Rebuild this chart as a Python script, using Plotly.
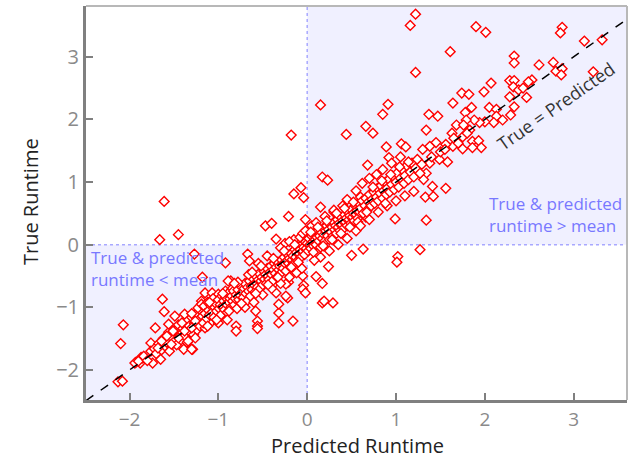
import plotly.graph_objects as go

# ---- data ----
outlier_x = [1.90, 2.01, 1.61, 2.87, 2.85, 3.12, 3.32, 2.33, 2.33, 2.61, 2.77, 2.80, 2.87, 2.86, 3.22,
             2.53, 2.49, 2.28, 2.33, 2.07, 1.74, 1.82, 1.99, 2.32, 2.38, 2.43, 2.28, 2.47, 1.64, 1.85,
             2.05, 2.13, 2.33, 1.78, 1.37, 1.47, 2.13, 2.29, 2.20, 2.10, 2.00, 1.94, 1.88, 1.79, 1.68,
             1.76, 1.83, 1.34, 1.63, 1.75, 1.86, 1.93, 1.96, 1.86, 1.75, 1.64, 1.56, 1.45, 1.38, 1.30,
             1.58, 1.49, 1.38, 1.34, 1.31, 1.41, 1.56, 1.33, 1.42,
             1.22, 1.16, 1.22, 0.15, 0.91, 0.85, 0.66, 0.74, 0.44, 0.89, 1.06, 1.11, 0.92, 0.68, 1.34,
             0.99, 0.17, 0.23, 0.15,
             -0.18, -0.07, -0.15, -0.04, 0.50, 0.63, 1.27, 1.02, 1.01, 0.24, 0.10, -0.05, 0.17, -0.04,
             0.17, 0.29,
             -1.61, -0.21, -0.47, -0.40, -0.02,
             -1.66, -1.45, -1.27, -0.92, -1.18, -1.63, -1.61, -2.07, -2.10, -1.71, -1.76, -1.65, -1.74,
             -1.93, -1.86, -2.13, -2.08, -1.88, -1.52, -1.29, -0.80, -0.80, -0.58, -0.56, -0.56, -0.32,
             -0.16, -0.32, -1.87, -1.85, -1.94,
             -0.35, -0.67, -0.65, -0.21, -0.05, -0.22, -0.32, -0.56, -0.86, 0.19, 0.30, -0.02, -0.24,
             -0.24, -0.35, -0.36]
outlier_y = [3.48, 3.39, 3.08, 3.47, 3.38, 3.25, 3.27, 3.01, 2.90, 2.87, 2.91, 2.77, 2.81, 2.71, 2.76,
             2.63, 2.60, 2.62, 2.62, 2.58, 2.42, 2.40, 2.44, 2.52, 2.47, 2.50, 2.36, 2.35, 2.26, 2.19,
             2.19, 2.16, 2.20, 2.11, 2.08, 2.05, 2.05, 2.07, 1.99, 1.95, 1.96, 1.95, 1.99, 1.99, 1.91,
             1.91, 1.83, 1.83, 1.78, 1.72, 1.65, 1.66, 1.55, 1.55, 1.53, 1.57, 1.60, 1.63, 1.57, 1.52,
             1.32, 1.36, 1.30, 1.14, 1.04, 0.93, 0.90, 0.76, 0.77,
             3.68, 3.50, 2.75, 2.23, 2.24, 2.08, 1.89, 1.78, 1.76, 1.56, 1.61, 1.56, 1.39, 1.27, 0.39,
             0.41, 1.08, 1.03, 0.60,
             1.75, 0.91, 0.81, 0.75, -0.17, -0.07, -0.08, -0.19, -0.28, -0.35, -0.51, -0.50, -0.62, -0.65,
             -0.93, -0.93,
             0.69, 0.45, 0.30, 0.34, 0.40,
             0.08, 0.16, -0.15, -0.29, -0.52, -0.87, -1.07, -1.28, -1.58, -1.33, -1.57, -1.83, -1.89,
             -1.88, -1.82, -2.19, -2.18, -1.89, -1.59, -1.67, -1.30, -1.38, -1.06, -1.22, -1.30, -1.25,
             -1.22, -1.09, -1.80, -1.81, -1.89,
             0.09, -0.15, -0.26, -0.60, -0.71, -0.85, -0.95, -1.34, -0.58, -0.90, 0.52, -0.77, -0.82,
             -0.63, -0.77, -0.60]

band_x = [-1.90, -1.84, -1.80, -1.76, -1.72, -1.70, -1.67, -1.64, -1.62, -1.60, -1.58, -1.56, -1.55,
          -1.53, -1.50, -1.48, -1.47, -1.45, -1.43, -1.42, -1.40, -1.38, -1.36, -1.35, -1.33, -1.32,
          -1.30, -1.28, -1.27, -1.25, -1.24, -1.22, -1.21, -1.20, -1.18,
          -1.49, -1.38, -1.41, -1.56, -1.51, -1.58, -1.64, -1.68, -1.53, -1.45, -1.38, -1.30, -1.26,
          -1.34, -1.39, -1.30, -1.23, -1.19, -1.15, -1.07, -1.00, -0.92, -0.85, -0.89, -0.85, -0.92,
          -1.00, -1.07, -1.15, -1.19, -1.11, -1.04, -0.96, -1.26,
          -1.17, -1.16, -1.15, -1.13, -1.12, -1.11, -1.10, -1.08, -1.07, -1.06, -1.05, -1.04, -1.03,
          -1.02, -1.00, -0.99, -0.98, -0.97, -0.96, -0.95, -0.94, -0.93, -0.92, -0.91, -0.90, -0.89,
          -0.88, -0.87, -0.86, -0.85, -0.84, -0.83, -0.82, -0.81, -0.80, -0.79, -0.78, -0.77, -0.76,
          -0.75, -0.74, -0.73, -0.72, -0.71, -0.70, -0.69, -0.68, -0.67, -0.66, -0.65, -0.64, -0.63,
          -0.62, -0.61, -0.60,
          -0.59, -0.58, -0.57, -0.56, -0.55, -0.54, -0.53, -0.52, -0.51, -0.50, -0.49, -0.48, -0.47,
          -0.46, -0.45, -0.44, -0.43, -0.42, -0.41, -0.40, -0.39, -0.38, -0.37, -0.36, -0.35, -0.34,
          -0.33, -0.32, -0.31, -0.30, -0.29, -0.28, -0.27, -0.26, -0.25, -0.24, -0.23, -0.22, -0.21,
          -0.20, -0.19, -0.18, -0.17, -0.16, -0.15, -0.14, -0.13, -0.12, -0.11, -0.10, -0.09, -0.08,
          -0.07, -0.06, -0.05, -0.04, -0.03, -0.02, -0.01,
          -0.25, -0.15, -0.08, -0.30, -0.45, -0.55, -0.20, -0.05, -0.02,
          -0.50, -0.40, -0.30, -0.20, -0.12, -0.06, -0.60, -0.70, -0.90, -1.00,
          -1.10, -0.95, -0.78, -0.66, -0.52, -0.38, -0.26, -0.14, -1.02, -0.88, -0.74, -0.58, -0.44,
          -0.33, -0.18, -0.10, -1.30, -1.12, -0.82, -0.62,
          0.00, 0.01, 0.02, 0.03, 0.04, 0.05, 0.06, 0.07, 0.08, 0.09, 0.10, 0.11, 0.12, 0.13, 0.14,
          0.15, 0.16, 0.17, 0.18, 0.19, 0.20, 0.21, 0.22, 0.23, 0.24, 0.25, 0.26, 0.27, 0.28, 0.29,
          0.30, 0.31, 0.32, 0.33, 0.34, 0.35, 0.36, 0.37, 0.38, 0.39, 0.40, 0.41, 0.42, 0.43, 0.44,
          0.45, 0.46, 0.47, 0.48, 0.49, 0.50, 0.51, 0.52, 0.53, 0.54, 0.55, 0.56, 0.57, 0.58, 0.59,
          0.05, 0.10, 0.20, 0.30, 0.40, 0.45, 0.15, 0.25, 0.35, 0.45, 0.55, 0.08,
          0.04, 0.12, 0.22, 0.33, 0.42, 0.52, 0.60, 0.07, 0.18, 0.28, 0.38, 0.48, 0.57, 0.66,
          0.60, 0.62, 0.63, 0.65, 0.66, 0.68, 0.69, 0.70, 0.72, 0.73, 0.75, 0.76, 0.78, 0.79, 0.80,
          0.82, 0.83, 0.85, 0.86, 0.88, 0.89, 0.90, 0.92, 0.93, 0.95, 0.96, 0.98, 1.00, 1.01, 1.03,
          1.05, 1.07, 1.09, 1.10, 1.12, 1.14, 1.16, 1.18, 1.20, 1.22, 1.24, 1.27, 1.29,
          0.62, 0.70, 0.78, 0.55, 0.95, 1.05, 0.85, 0.70, 0.80, 0.90, 1.00, 1.10, 0.60, 1.20,
          0.74, 0.84, 0.94, 1.04, 1.14, 0.67, 0.88,
          1.40, 1.50, 1.55, 1.65, 1.70, 1.80]
band_y = [-1.86, -1.78, -1.85, -1.70, -1.66, -1.74, -1.58, -1.68, -1.50, -1.62, -1.56, -1.40, -1.70,
          -1.48, -1.55, -1.36, -1.60, -1.28, -1.44, -1.52, -1.34, -1.46, -1.20, -1.56, -1.30, -1.40,
          -1.16, -1.44, -1.26, -1.10, -1.36, -1.20, -1.30, -1.05, -1.14,
          -1.14, -1.11, -1.25, -1.27, -1.38, -1.46, -1.54, -1.65, -1.59, -1.49, -1.38, -1.33, -1.22,
          -1.54, -1.67, -1.67, -1.01, -0.90, -0.77, -0.77, -0.79, -0.74, -0.71, -0.58, -0.95, -1.06,
          -1.17, -1.22, -1.33, -0.95, -1.01, -0.95, -0.90, -1.49,
          -1.25, -0.98, -1.10, -1.18, -0.92, -1.05, -1.12, -0.98, -1.08, -0.86, -1.16, -1.00, -0.94,
          -1.06, -0.88, -1.02, -0.96, -1.12, -0.82, -0.98, -0.90, -1.04, -0.84, -0.95, -1.08, -0.78,
          -0.92, -0.86, -1.00, -0.82, -0.90, -0.74, -0.96, -0.86, -0.80, -1.02, -0.72, -0.88, -0.80,
          -0.66, -0.94, -0.76, -0.84, -0.70, -0.62, -0.78, -0.90, -0.68, -0.74, -0.58, -0.82, -0.66,
          -0.72, -0.54, -0.64,
          -0.76, -0.50, -0.62, -0.68, -0.56, -0.46, -0.70, -0.58, -0.52, -0.64, -0.42, -0.55, -0.48,
          -0.62, -0.38, -0.50, -0.56, -0.44, -0.34, -0.48, -0.58, -0.40, -0.30, -0.46, -0.36, -0.52,
          -0.28, -0.40, -0.34, -0.46, -0.24, -0.32, -0.38, -0.20, -0.30, -0.42, -0.26, -0.16, -0.30,
          -0.22, -0.36, -0.14, -0.24, -0.18, -0.30, -0.08, -0.20, -0.12, -0.26, -0.04, -0.14, -0.08,
          -0.20, 0.00, -0.10, -0.04, -0.16, 0.04, -0.06,
          0.02, 0.08, 0.12, -0.05, -0.18, -0.30, 0.05, 0.18, 0.22,
          -0.80, -0.70, -0.62, -0.52, -0.45, -0.38, -0.92, -1.00, -1.20, -1.25,
          -0.92, -0.78, -0.60, -0.48, -0.34, -0.22, -0.10, 0.00, -1.20, -1.06, -0.94, -0.78, -0.64,
          -0.52, -0.36, -0.28, -1.10, -1.30, -0.62, -0.44,
          0.02, -0.10, 0.10, 0.00, -0.06, 0.14, 0.04, -0.02, 0.18, 0.08, 0.00, 0.12, 0.22, 0.06, 0.14,
          -0.04, 0.20, 0.10, 0.26, 0.16, 0.06, 0.22, 0.30, 0.14, 0.24, 0.08, 0.32, 0.20, 0.28, 0.14,
          0.36, 0.24, 0.30, 0.18, 0.40, 0.28, 0.34, 0.22, 0.44, 0.32, 0.38, 0.26, 0.48, 0.36, 0.42,
          0.30, 0.52, 0.40, 0.46, 0.34, 0.56, 0.44, 0.50, 0.38, 0.62, 0.48, 0.54, 0.42, 0.66, 0.52,
          0.30, 0.35, 0.45, 0.55, 0.62, 0.72, -0.20, -0.10, 0.00, 0.10, 0.22, -0.25,
          0.20, 0.28, 0.38, 0.50, 0.58, 0.68, 0.76, -0.12, -0.02, 0.08, 0.18, 0.28, 0.36, 0.44,
          0.58, 0.70, 0.50, 0.62, 0.74, 0.56, 0.68, 0.80, 0.62, 0.72, 0.84, 0.66, 0.76, 0.90, 0.70,
          0.82, 0.94, 0.74, 0.86, 1.00, 0.80, 0.90, 1.04, 0.84, 0.96, 1.10, 0.88, 1.00, 1.14, 0.92,
          1.06, 1.20, 0.98, 1.10, 1.26, 1.04, 1.16, 1.30, 1.08, 1.22, 1.36, 1.14, 1.28,
          0.98, 1.06, 1.12, 0.86, 1.30, 1.40, 1.20, 0.40, 0.52, 0.62, 0.70, 0.78, 0.30, 0.85,
          0.92, 1.02, 1.12, 1.24, 1.32, 0.52, 0.66,
          1.40, 1.48, 1.52, 1.70, 1.62, 1.78]

x_points = outlier_x + band_x
y_points = outlier_y + band_y

x_range = [-2.49, 3.60]
y_range = [-2.48, 3.81]
x_ticks = [-2, -1, 0, 1, 2, 3]
y_ticks = [-2, -1, 0, 1, 2, 3]
x_title = "Predicted Runtime"
y_title = "True Runtime"
label_above = "True & predicted<br>runtime > mean"
label_below = "True & predicted<br>runtime < mean"
line_label = "True = Predicted"

FONT = "Open Sans, Noto Sans, sans-serif"
shade = "#f0f0ff"
dot_col = "#a8a8ff"

fig = go.Figure()

fig.add_trace(go.Scatter(
    x=x_points, y=y_points, mode="markers",
    marker=dict(symbol="diamond", size=7.5, color="white",
                line=dict(color="#ff0000", width=1.4)),
    hoverinfo="x+y", showlegend=False, cliponaxis=True))

fig.add_trace(go.Scatter(
    x=[x_range[0], x_range[1]], y=[x_range[0], x_range[1]], mode="lines",
    line=dict(color="black", width=1.5, dash="dash"), showlegend=False, hoverinfo="skip"))

shapes = [
    dict(type="rect", xref="x", yref="y", x0=x_range[0], x1=0, y0=y_range[0], y1=0,
         fillcolor=shade, line=dict(width=0), layer="below"),
    dict(type="rect", xref="x", yref="y", x0=0, x1=x_range[1], y0=0, y1=y_range[1],
         fillcolor=shade, line=dict(width=0), layer="below"),
    dict(type="line", xref="x", yref="y", x0=0, x1=0, y0=y_range[0], y1=y_range[1],
         line=dict(color=dot_col, width=1.5, dash="dot"), layer="below"),
    dict(type="line", xref="x", yref="y", x0=x_range[0], x1=x_range[1], y0=0, y1=0,
         line=dict(color=dot_col, width=1.5, dash="dot"), layer="below"),
    # thin top / right frame
    dict(type="line", xref="paper", yref="paper", x0=0, x1=1, y0=1, y1=1,
         line=dict(color="#b8b8b8", width=2)),
    dict(type="line", xref="paper", yref="paper", x0=1, x1=1, y0=0, y1=1,
         line=dict(color="#b8b8b8", width=2)),
]

annotations = [
    dict(x=0.741, y=0.472, xref="paper", yref="paper", xanchor="left", yanchor="middle",
         text=label_above, showarrow=False, align="left",
         font=dict(family=FONT, size=17, color="#7878ff")),
    dict(x=0.006, y=0.335, xref="paper", yref="paper", xanchor="left", yanchor="middle",
         text=label_below, showarrow=False, align="left",
         font=dict(family=FONT, size=17, color="#7878ff")),
    dict(x=2.80, y=2.21, xref="x", yref="y", text=line_label, showarrow=False,
         textangle=-35, font=dict(family=FONT, size=18, color="#333333")),
    dict(x=0.501, y=-0.115, xref="paper", yref="paper", xanchor="center", yanchor="middle",
         text=x_title, showarrow=False, font=dict(family=FONT, size=20, color="#222222")),
    dict(x=-0.1035, y=0.5025, xref="paper", yref="paper", xanchor="center", yanchor="middle",
         text=y_title, showarrow=False, textangle=-90,
         font=dict(family=FONT, size=20, color="#222222")),
]

fig.update_layout(
    width=638, height=458,
    margin=dict(l=86, r=11, t=6, b=58, autoexpand=False),
    paper_bgcolor="white", plot_bgcolor="white",
    font=dict(family=FONT),
    shapes=shapes, annotations=annotations,
    xaxis=dict(range=x_range, tickvals=x_ticks, showgrid=False, zeroline=False, automargin=False,
               showline=True, linecolor="#808080", linewidth=3,
               ticks="inside", ticklen=7, tickwidth=2, tickcolor="#808080",
               tickfont=dict(family=FONT, size=19, color="#8a8a8a")),
    yaxis=dict(range=y_range, tickvals=y_ticks, showgrid=False, zeroline=False, automargin=False,
               showline=True, linecolor="#808080", linewidth=3,
               ticks="inside", ticklen=7, tickwidth=2, tickcolor="#808080",
               tickfont=dict(family=FONT, size=20, color="#8a8a8a")),
)

fig.write_html("out.html", config={"displayModeBar": False},
               post_script="document.body.style.margin='0';document.body.style.overflow='hidden';")
